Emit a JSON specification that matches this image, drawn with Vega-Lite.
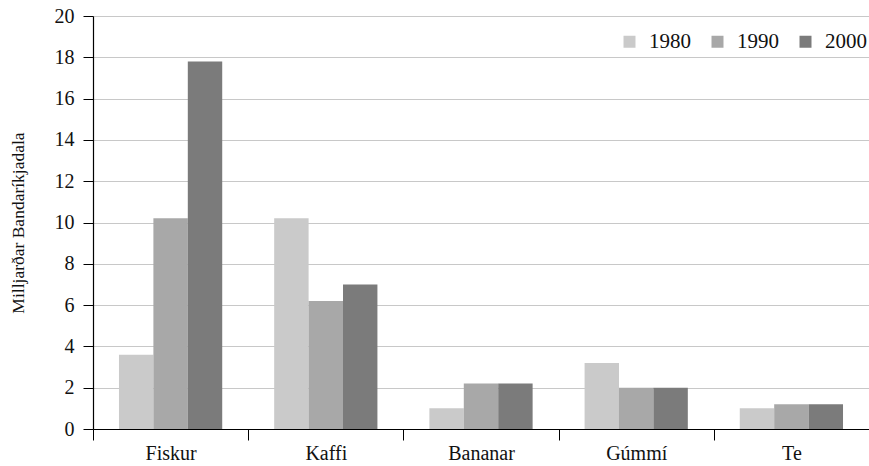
{
  "$schema": "https://vega.github.io/schema/vega-lite/v6.json",
  "width": 776,
  "height": 413,
  "autosize": {"type": "none"},
  "padding": {"left": 93, "top": 16, "right": 0, "bottom": 37},
  "background": "white",
  "config": {
    "view": {"stroke": null},
    "font": "Liberation Serif",
    "axis": {"labelFont": "Liberation Serif", "titleFont": "Liberation Serif", "labelColor": "#111", "titleColor": "#111"},
    "legend": {"labelFont": "Liberation Serif"}
  },
  "data": {
    "values": [
      {"vara": "Fiskur", "ar": "1980", "gildi": 3.6},
      {"vara": "Fiskur", "ar": "1990", "gildi": 10.2},
      {"vara": "Fiskur", "ar": "2000", "gildi": 17.8},
      {"vara": "Kaffi", "ar": "1980", "gildi": 10.2},
      {"vara": "Kaffi", "ar": "1990", "gildi": 6.2},
      {"vara": "Kaffi", "ar": "2000", "gildi": 7.0},
      {"vara": "Bananar", "ar": "1980", "gildi": 1.0},
      {"vara": "Bananar", "ar": "1990", "gildi": 2.2},
      {"vara": "Bananar", "ar": "2000", "gildi": 2.2},
      {"vara": "Gúmmí", "ar": "1980", "gildi": 3.2},
      {"vara": "Gúmmí", "ar": "1990", "gildi": 2.0},
      {"vara": "Gúmmí", "ar": "2000", "gildi": 2.0},
      {"vara": "Te", "ar": "1980", "gildi": 1.0},
      {"vara": "Te", "ar": "1990", "gildi": 1.2},
      {"vara": "Te", "ar": "2000", "gildi": 1.2}
    ]
  },
  "mark": {"type": "bar"},
  "encoding": {
    "x": {
      "field": "vara",
      "type": "nominal",
      "sort": ["Fiskur", "Kaffi", "Bananar", "Gúmmí", "Te"],
      "scale": {"paddingInner": 0, "paddingOuter": 0},
      "axis": {
        "title": null,
        "labelAngle": 0,
        "labelFontSize": 20,
        "labelPadding": 3,
        "tickBand": "extent",
        "tickSize": 11,
        "tickColor": "#000",
        "domainColor": "#000",
        "domainWidth": 1.2,
        "grid": false
      }
    },
    "xOffset": {
      "field": "ar",
      "type": "nominal",
      "sort": ["1980", "1990", "2000"],
      "scale": {"paddingInner": 0, "paddingOuter": 0.755}
    },
    "y": {
      "field": "gildi",
      "type": "quantitative",
      "scale": {"domain": [0, 20], "nice": false},
      "axis": {
        "title": "Milljarðar Bandaríkjadala",
        "titleFontSize": 17.5,
        "titleFontWeight": "normal",
        "titlePadding": 27,
        "values": [0, 2, 4, 6, 8, 10, 12, 14, 16, 18, 20],
        "labelFontSize": 20,
        "labelPadding": 9,
        "tickSize": 10,
        "tickColor": "#000",
        "domainColor": "#000",
        "domainWidth": 1.2,
        "grid": true,
        "gridColor": "#c8c8c8",
        "gridWidth": 1.2
      }
    },
    "color": {
      "field": "ar",
      "type": "nominal",
      "scale": {"domain": ["1980", "1990", "2000"], "range": ["#cacaca", "#a8a8a8", "#7b7b7b"]},
      "legend": {
        "title": null,
        "orient": "none",
        "legendX": 526,
        "legendY": 15,
        "direction": "horizontal",
        "symbolType": "square",
        "symbolSize": 144,
        "symbolStrokeWidth": 0,
        "labelFontSize": 21,
        "labelColor": "#111",
        "columnPadding": 16,
        "labelOffset": 9
      }
    }
  }
}
